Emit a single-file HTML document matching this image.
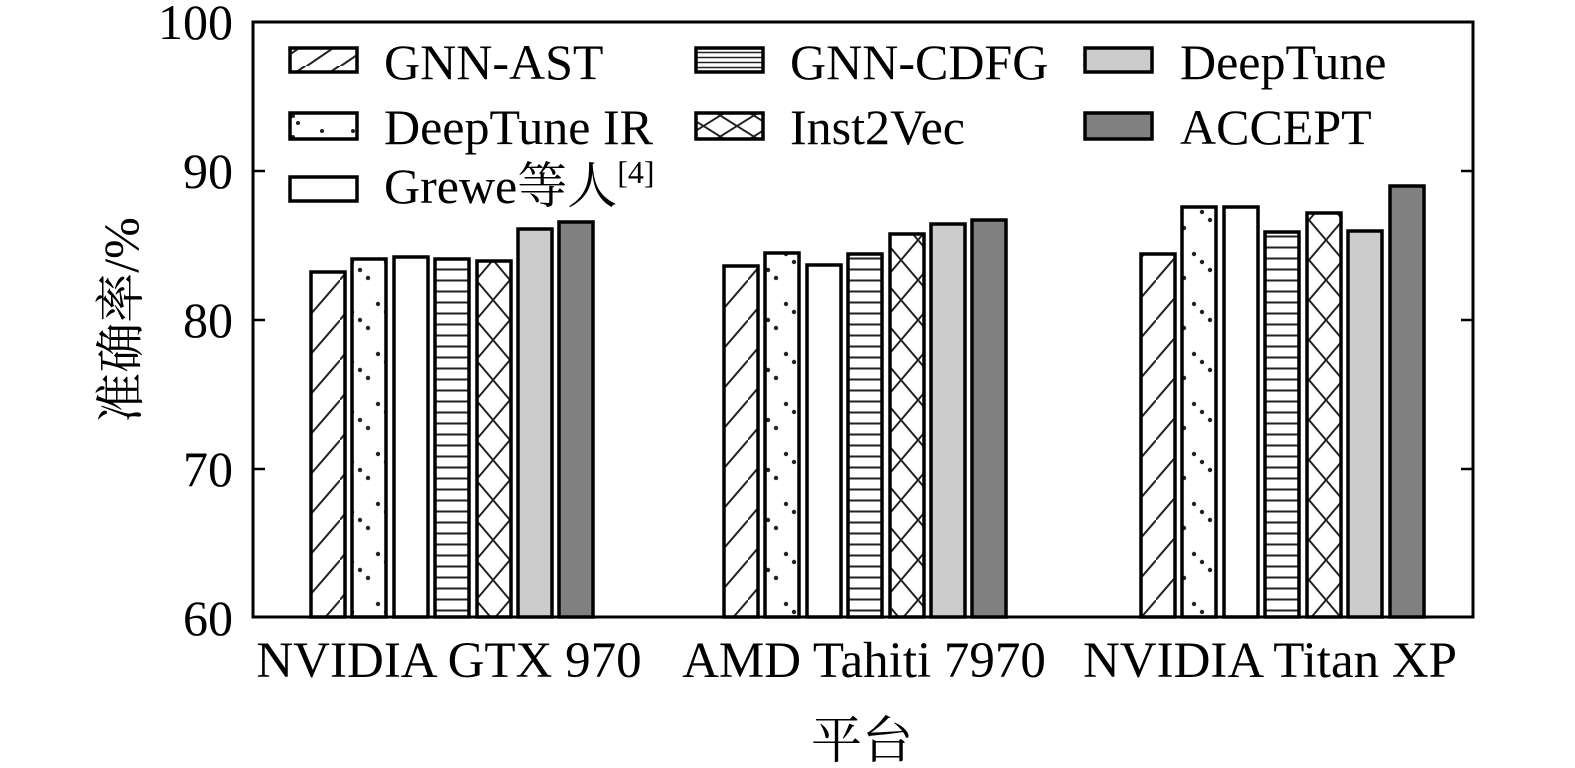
<!DOCTYPE html>
<html><head><meta charset="utf-8"><style>body{margin:0;background:#fff}svg{display:block}</style></head><body>
<svg width="1575" height="768" xmlns="http://www.w3.org/2000/svg" font-family="Liberation Serif, Noto Serif CJK SC, serif">
<defs>
<pattern id="diag" patternUnits="userSpaceOnUse" width="34" height="40"><path d="M-2,42 L36,-2" stroke="#222" stroke-width="2"/></pattern>
<pattern id="dots" patternUnits="userSpaceOnUse" width="34" height="100"><g fill="#222"><circle cx="4" cy="4" r="2.2"/><circle cx="12" cy="12" r="2.2"/><circle cx="20" cy="20" r="2.2"/><circle cx="28" cy="28" r="2.2"/><circle cx="4" cy="54" r="2.2"/><circle cx="12" cy="62" r="2.2"/><circle cx="20" cy="70" r="2.2"/><circle cx="28" cy="78" r="2.2"/></g></pattern>
<pattern id="horiz" patternUnits="userSpaceOnUse" width="34" height="11"><path d="M0,5.5 H34" stroke="#222" stroke-width="2"/></pattern>
<pattern id="cross" patternUnits="userSpaceOnUse" width="34" height="40"><path d="M0,0 L34,40 M34,0 L0,40" stroke="#222" stroke-width="2"/></pattern>
<pattern id="diagL" patternUnits="userSpaceOnUse" width="34" height="22"><path d="M-2,24 L36,-2" stroke="#222" stroke-width="2"/></pattern>
<pattern id="dotsL" patternUnits="userSpaceOnUse" width="67" height="21"><g fill="#222"><circle cx="18" cy="5" r="2"/><circle cx="25" cy="11" r="2"/><circle cx="30" cy="18" r="2"/><circle cx="54" cy="5" r="2"/></g></pattern>
<pattern id="horizL" patternUnits="userSpaceOnUse" width="67" height="5"><path d="M0,2.5 H67" stroke="#222" stroke-width="1.5"/></pattern>
<pattern id="crossL" patternUnits="userSpaceOnUse" width="33.5" height="21"><path d="M0,0 L33.5,21 M33.5,0 L0,21" stroke="#222" stroke-width="2"/></pattern>
</defs>
<rect x="253" y="22" width="1220" height="595" fill="none" stroke="#000" stroke-width="3"/>
<g font-size="50" text-anchor="end">
<text x="233" y="39">100</text><text x="233" y="188">90</text><text x="233" y="337">80</text><text x="233" y="486">70</text><text x="233" y="635">60</text>
</g>
<g stroke="#000" stroke-width="2.5">
<line x1="253" y1="171" x2="265" y2="171"/><line x1="253" y1="320" x2="265" y2="320"/><line x1="253" y1="469" x2="265" y2="469"/>
<line x1="1473" y1="171" x2="1461" y2="171"/><line x1="1473" y1="320" x2="1461" y2="320"/><line x1="1473" y1="469" x2="1461" y2="469"/>
</g>
<g stroke="#000" stroke-width="3.5">
<rect x="311" y="272" width="34" height="345" fill="url(#diag)"/>
<rect x="352" y="259" width="34" height="358" fill="url(#dots)"/>
<rect x="394" y="257" width="34" height="360" fill="#fff"/>
<rect x="435" y="259" width="34" height="358" fill="url(#horiz)"/>
<rect x="477" y="261" width="34" height="356" fill="url(#cross)"/>
<rect x="518" y="229" width="34" height="388" fill="#ccc"/>
<rect x="559" y="222" width="34" height="395" fill="#808080"/>
<rect x="724" y="266" width="34" height="351" fill="url(#diag)"/>
<rect x="765" y="253" width="34" height="364" fill="url(#dots)"/>
<rect x="807" y="265" width="34" height="352" fill="#fff"/>
<rect x="848" y="254" width="34" height="363" fill="url(#horiz)"/>
<rect x="890" y="234" width="34" height="383" fill="url(#cross)"/>
<rect x="931" y="224" width="34" height="393" fill="#ccc"/>
<rect x="972" y="220" width="34" height="397" fill="#808080"/>
<rect x="1141" y="254" width="34" height="363" fill="url(#diag)"/>
<rect x="1182" y="207" width="34" height="410" fill="url(#dots)"/>
<rect x="1224" y="207" width="34" height="410" fill="#fff"/>
<rect x="1265" y="232" width="34" height="385" fill="url(#horiz)"/>
<rect x="1307" y="213" width="34" height="404" fill="url(#cross)"/>
<rect x="1348" y="231" width="34" height="386" fill="#ccc"/>
<rect x="1390" y="186" width="34" height="431" fill="#808080"/>
</g>
<g stroke="#000" stroke-width="3.5">
<rect x="290" y="48" width="67" height="24" fill="url(#diagL)"/>
<rect x="290" y="113" width="67" height="26" fill="url(#dotsL)"/>
<rect x="290" y="177" width="67" height="24" fill="#fff"/>
<rect x="696" y="48" width="67" height="24" fill="url(#horizL)"/>
<rect x="696" y="113" width="67" height="26" fill="url(#crossL)"/>
<rect x="1085" y="48" width="67" height="24" fill="#ccc"/>
<rect x="1085" y="113" width="67" height="26" fill="#808080"/>
</g>
<g font-size="50">
<text x="384" y="79">GNN-AST</text>
<text x="384" y="144">DeepTune IR</text>
<text x="384" y="203">Grewe等人<tspan font-size="32" dy="-20">[4]</tspan></text>
<text x="790" y="79">GNN-CDFG</text>
<text x="790" y="144">Inst2Vec</text>
<text x="1180" y="79">DeepTune</text>
<text x="1180" y="144">ACCEPT</text>
</g>
<g font-size="51" text-anchor="middle">
<text x="449" y="677">NVIDIA GTX 970</text>
<text x="864" y="677">AMD Tahiti 7970</text>
<text x="1270" y="677">NVIDIA Titan XP</text>
<text x="862" y="758">平台</text>
</g>
<text font-size="50" text-anchor="middle" transform="translate(138,320) rotate(-90)">准确率/%</text>
</svg>
</body></html>
